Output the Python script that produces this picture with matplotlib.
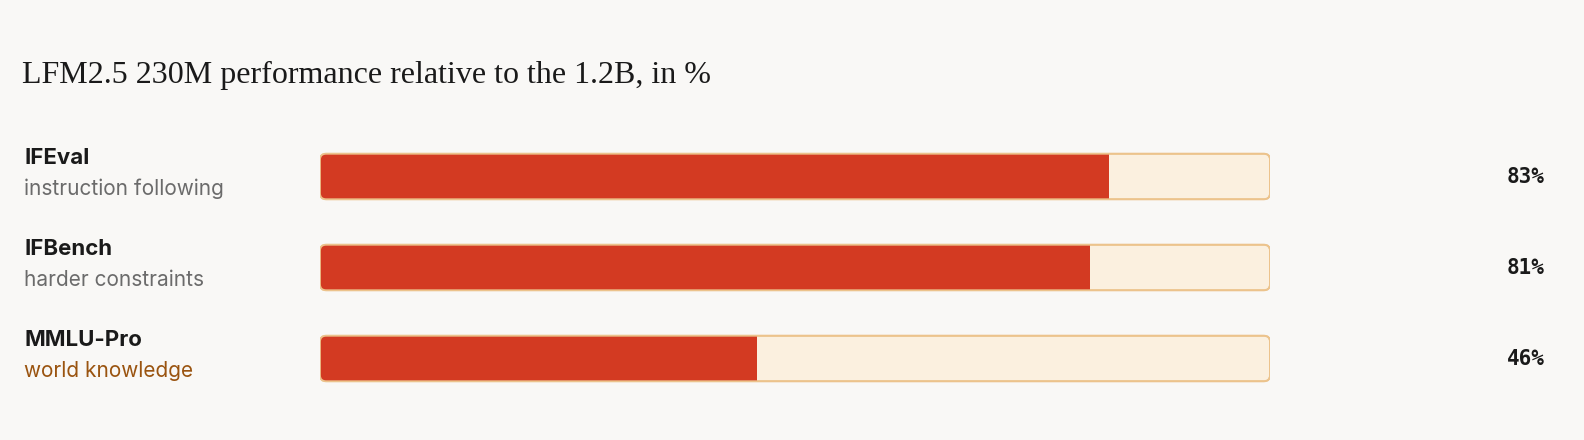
import matplotlib
matplotlib.use("Agg")
import matplotlib.pyplot as plt
from matplotlib.patches import FancyBboxPatch, Rectangle
import matplotlib.transforms as mtrans

TITLE = "LFM2.5 230M performance relative to the 1.2B, in %"
NAMES = ["IFEval", "IFBench", "MMLU-Pro"]
SUBS = ["instruction following", "harder constraints", "world knowledge"]
SUB_COLORS = ["#6b6b6b", "#6b6b6b", "#9a5410"]
VALUES = [83, 81, 46]

BG = "#f9f8f6"
RED = "#d33a22"
TRACK = "#fbf0df"
EDGE = "#ecc38c"

W, H = 1584, 440
fig = plt.figure(figsize=(W / 100, H / 100), dpi=100, facecolor=BG)
fig.text(22 / W, 1 - 75 / H, TITLE, fontsize=23, family="Liberation Serif",
         va="center", ha="left", color="#1a1a1a")

# bar axes: x from 320 to 1270 px, rows centred ~176/267/358 px
ax = fig.add_axes([320 / W, 1 - 404 / H, 950 / W, 273 / H])
ax.set_xlim(0, 100)
ax.set_ylim(len(VALUES) - 0.5, -0.5)
ax.axis("off")
ax.set_facecolor(BG)

bh = 0.5
rx = 0.65
asp = (6 / 91) / rx
lab = mtrans.blended_transform_factory(fig.transFigure, ax.transData)
for i, (n, s, c, v) in enumerate(zip(NAMES, SUBS, SUB_COLORS, VALUES)):
    track = FancyBboxPatch((0, i - bh / 2), 100, bh,
                           boxstyle=f"round,pad=0,rounding_size={rx}",
                           mutation_aspect=asp, facecolor=TRACK,
                           edgecolor=EDGE, linewidth=1.3, zorder=1)
    ax.add_patch(track)
    bar = Rectangle((0, i - bh / 2), v, bh, facecolor=RED, edgecolor="none", zorder=2)
    ax.add_patch(bar)
    bar.set_clip_path(track)
    edge = FancyBboxPatch((0, i - bh / 2), 100, bh,
                          boxstyle=f"round,pad=0,rounding_size={rx}",
                          mutation_aspect=asp, facecolor="none",
                          edgecolor=EDGE, linewidth=1.3, zorder=3)
    ax.add_patch(edge)
    ax.text(24 / W, i - 0.2, n, transform=lab, fontsize=16, fontweight="bold",
            family="Inter", color="#1a1a1a", va="center", ha="left")
    ax.text(24 / W, i + 0.14, s, transform=lab, fontsize=15, family="Inter",
            color=c, va="center", ha="left")
    ax.text(1545 / W, i, f"{v}%", transform=lab, fontsize=15, fontweight="bold",
            family="DejaVu Sans Mono", color="#1a1a1a", va="center", ha="right")

fig.savefig("out.png", dpi=100, facecolor=BG)
